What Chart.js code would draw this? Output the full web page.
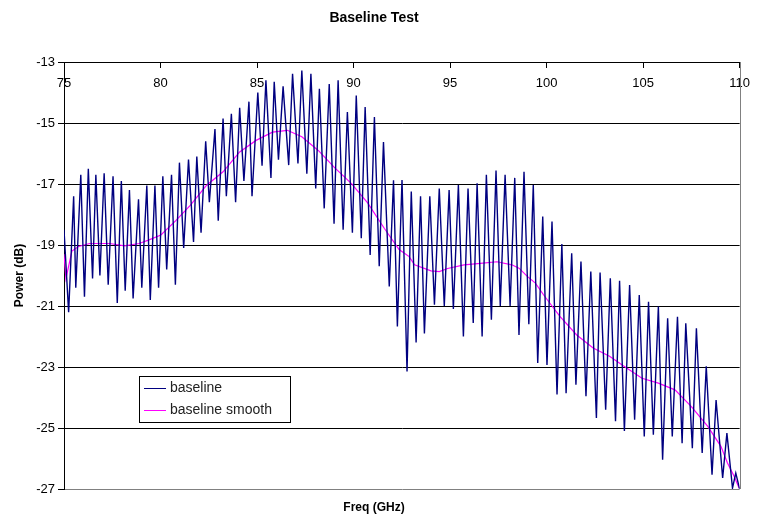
<!DOCTYPE html>
<html lang="en">

<head>
    <meta charset="UTF-8">
    <title>Baseline Test</title>
    <script src="https://cdn.jsdelivr.net/npm/chart.js"></script>
    <style>
        body { margin: 0; background: #fff; }
        #chart { display: block; }
    </style>
</head>

<body>
    <canvas id="chart" width="759" height="516"></canvas>

    <script>
        // Picos de la curva "baseline" (GHz, dB)
        const peakFreq = [75.00, 75.50, 75.87, 76.26, 76.65, 77.08, 77.54, 77.97, 78.39, 78.86, 79.29, 79.71, 80.12, 80.57,
            80.98, 81.45, 81.88, 82.34, 82.82, 83.24, 83.67, 84.10, 84.58, 85.04, 85.46, 85.89, 86.35,
            86.84, 87.32, 87.79, 88.23, 88.74, 89.20, 89.68, 90.14, 90.60, 91.08, 91.55, 92.07,
            92.51, 92.99, 93.47, 93.95, 94.44, 94.95, 95.43, 95.93, 96.40, 96.88, 97.38, 97.85,
            98.35, 98.83, 99.31, 99.80, 100.28, 100.79, 101.30, 101.78, 102.29, 102.77, 103.30, 103.78,
            104.30, 104.80, 105.28, 105.79, 106.27, 106.78, 107.21, 107.76, 108.27, 108.78, 109.34, 109.80];
        const peakPower = [-18.5, -17.4, -16.7, -16.5, -16.7, -16.65, -16.75, -16.9, -17.2, -17.5, -17.05, -17.05, -16.75, -16.7,
            -16.3, -16.2, -16.1, -15.6, -15.2, -14.85, -14.7, -14.5, -14.3, -14.0, -13.6, -13.65, -13.8,
            -13.39, -13.28, -13.39, -13.88, -13.72, -13.6, -14.64, -14.1, -14.48, -14.8, -15.62, -16.88,
            -16.87, -17.25, -17.4, -17.4, -17.15, -17.2, -17.03, -17.15, -16.98, -16.7, -16.56, -16.7,
            -16.8, -16.6, -17.03, -18.07, -18.23, -18.97, -19.27, -19.54, -19.87, -19.9, -20.09, -20.17,
            -20.31, -20.64, -20.86, -21.02, -21.4, -21.35, -21.57, -21.73, -22.98, -24.08, -25.17, -26.48];

        // Valles de la curva "baseline"
        const troughFreq = [75.24, 75.61, 76.06, 76.48, 76.86, 77.29, 77.76, 78.17, 78.58, 79.03, 79.47, 79.90, 80.32,
            80.77, 81.20, 81.71, 82.10, 82.53, 82.99, 83.41, 83.89, 84.32, 84.74, 85.26, 85.72, 86.11,
            86.64, 87.12, 87.58, 88.04, 88.48, 88.99, 89.46, 89.94, 90.40, 90.86, 91.33, 91.85, 92.27,
            92.77, 93.24, 93.67, 94.19, 94.70, 95.17, 95.69, 96.20, 96.66, 97.14, 97.60, 98.11,
            98.57, 99.08, 99.54, 100.02, 100.54, 101.01, 101.52, 102.04, 102.58, 103.06, 103.57, 104.03,
            104.56, 105.06, 105.53, 106.01, 106.51, 107.02, 107.55, 108.06, 108.57, 109.12, 109.63, 110.00];
        const troughPower = [-21.2, -20.4, -20.7, -20.1, -20.0, -20.3, -20.9, -20.5, -20.75, -20.4, -20.8, -20.4, -19.8,
            -20.3, -19.1, -18.9, -18.6, -17.6, -18.2, -17.4, -17.6, -16.9, -17.4, -16.4, -16.8, -16.2,
            -16.38, -16.33, -16.66, -17.15, -17.8, -18.3, -18.5, -18.6, -18.78, -19.33, -19.7, -20.36, -21.67,
            -23.15, -22.2, -21.9, -20.96, -21.0, -21.1, -22.0, -21.56, -22.0, -21.45, -21.0, -21.0,
            -21.95, -21.6, -22.87, -22.93, -23.9, -23.86, -23.58, -23.96, -24.67, -24.4, -24.78, -25.1,
            -24.73, -25.28, -25.22, -26.04, -25.28, -25.5, -25.66, -25.82, -26.53, -26.64, -26.97, -27.0];

        // Curva "baseline smooth"
        const smoothFreq = [75.00, 75.10, 75.41, 75.75, 76.33, 77.36, 78.14, 78.89, 79.34, 80.02, 80.79, 81.54, 82.39,
            83.24, 84.10, 84.95, 85.80, 86.57, 87.32, 88.17, 89.03, 89.88, 90.73, 91.59, 92.36, 92.88, 93.16,
            94.01, 94.44, 94.87, 95.72, 96.57, 97.43, 98.20, 98.57, 99.00, 99.42, 99.85, 100.28, 100.70,
            101.56, 102.41, 103.26, 104.03, 104.94, 105.79, 106.65, 107.50, 108.35, 109.03, 109.37, 109.72, 109.97];
        const smoothPower = [-19.3, -20.1, -19.2, -19.05, -18.95, -18.95, -19.03, -18.95, -18.85, -18.67, -18.2, -17.7, -17.04,
            -16.6, -15.95, -15.57, -15.3, -15.24, -15.45, -15.9, -16.47, -16.98, -17.62, -18.45, -19.15, -19.38, -19.65,
            -19.85, -19.87, -19.77, -19.65, -19.6, -19.55, -19.65, -19.76, -20.03, -20.25, -20.64, -21.0, -21.35,
            -21.95, -22.38, -22.65, -22.98, -23.37, -23.53, -23.75, -24.3, -24.95, -25.6, -26.15, -26.59, -26.97];

        // Etiquetas de los ejes
        const freqTicks = [75, 80, 85, 90, 95, 100, 105, 110];
        const powerTicks = [-27, -25, -23, -21, -19, -17, -15, -13];

        const FONT = 'Liberation Sans, Arial, sans-serif';

        // juntar picos y valles en una sola serie ordenada
        const baseline = peakFreq.map((f, i) => ({ x: f, y: peakPower[i] }))
            .concat(troughFreq.map((f, i) => ({ x: f, y: troughPower[i] })))
            .sort((a, b) => a.x - b.x);
        const smooth = smoothFreq.map((f, i) => ({ x: f, y: smoothPower[i] }));

        // borde gris del area de la grafica (lado derecho)
        const frame = {
            id: 'frame',
            beforeDatasetsDraw(chart) {
                const { ctx, chartArea } = chart;
                ctx.save();
                ctx.strokeStyle = '#808080';
                ctx.lineWidth = 1;
                ctx.beginPath();
                ctx.moveTo(Math.round(chartArea.right) + 0.5, chartArea.top);
                ctx.lineTo(Math.round(chartArea.right) + 0.5, chartArea.bottom);
                ctx.stroke();
                ctx.restore();
            }
        };

        // leyenda con recuadro dentro del area, abajo a la izquierda
        const legendBox = {
            id: 'legendBox',
            afterDatasetsDraw(chart) {
                const { ctx, chartArea } = chart;
                const x = chartArea.left + 75;
                const y = chartArea.bottom - 113;
                ctx.save();
                ctx.fillStyle = '#fff';
                ctx.fillRect(x, y, 151, 46);
                ctx.strokeStyle = '#000';
                ctx.lineWidth = 1;
                ctx.strokeRect(x + 0.5, y + 0.5, 151, 46);
                ctx.font = '14px ' + FONT;
                ctx.textBaseline = 'middle';
                chart.data.datasets.forEach((ds, i) => {
                    const ly = y + 12.5 + i * 22;
                    ctx.strokeStyle = ds.borderColor;
                    ctx.beginPath();
                    ctx.moveTo(x + 5, ly);
                    ctx.lineTo(x + 27, ly);
                    ctx.stroke();
                    ctx.fillStyle = '#222';
                    ctx.fillText(ds.label, x + 31, ly);
                });
                ctx.restore();
            }
        };

        new Chart(document.getElementById('chart'), {
            type: 'line',
            data: {
                datasets: [{
                    label: 'baseline',
                    data: baseline,
                    borderColor: '#000080',
                    borderWidth: 1.4,
                    pointRadius: 0,
                    tension: 0
                }, {
                    label: 'baseline smooth',
                    data: smooth,
                    borderColor: '#ff00ff',
                    borderWidth: 1.2,
                    pointRadius: 0,
                    tension: 0
                }]
            },
            options: {
                responsive: false,
                animation: false,
                devicePixelRatio: 1,
                layout: { padding: { left: 0, right: 11, top: 0, bottom: 0 } },
                plugins: {
                    legend: { display: false },
                    tooltip: { enabled: false },
                    title: {
                        display: true,
                        text: 'Baseline Test',
                        color: '#000',
                        font: { family: FONT, size: 14, weight: 'bold', lineHeight: 1.2 },
                        padding: { top: 10, bottom: 35.2 }
                    },
                    subtitle: {
                        display: true,
                        position: 'bottom',
                        text: 'Freq (GHz)',
                        color: '#000',
                        font: { family: FONT, size: 12, weight: 'bold', lineHeight: 1.2 },
                        padding: { top: 11.6, bottom: 1 }
                    }
                },
                scales: {
                    x: {
                        type: 'linear',
                        position: { y: -13 },
                        min: 75,
                        max: 110,
                        afterBuildTicks: s => { s.ticks = freqTicks.map(v => ({ value: v })); },
                        afterFit: s => { s.height = 0; },
                        grid: { drawOnChartArea: false, drawTicks: true, tickLength: 5, color: '#000' },
                        border: { color: '#000' },
                        ticks: { padding: 9, maxRotation: 0, autoSkip: false, color: '#000', font: { family: FONT, size: 13 } }
                    },
                    y: {
                        type: 'linear',
                        min: -27,
                        max: -13,
                        afterBuildTicks: s => { s.ticks = powerTicks.map(v => ({ value: v })); },
                        afterFit: s => { s.width = 64; },
                        grid: {
                            color: c => c.tick && c.tick.value === -27 ? '#808080' : '#000',
                            tickColor: '#000',
                            tickLength: 6
                        },
                        border: { color: '#000' },
                        ticks: { padding: 3, color: '#000', font: { family: FONT, size: 13 } },
                        title: {
                            display: true,
                            text: 'Power (dB)',
                            color: '#000',
                            font: { family: FONT, size: 12, weight: 'bold', lineHeight: 1.2 },
                            padding: { top: 12, bottom: 0 }
                        }
                    }
                }
            },
            plugins: [frame, legendBox]
        });
    </script>
</body>

</html>
